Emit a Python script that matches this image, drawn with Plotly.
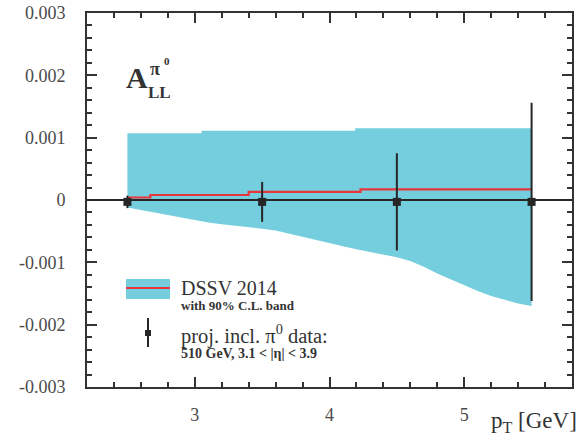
import plotly.graph_objects as go

# ---------------- data ----------------
# DSSV 2014 central prediction (step function)
dssv_x = [2.5, 2.67, 3.40, 4.23, 5.5]
dssv_y = [0.00004, 0.00008, 0.00013, 0.00017, 0.00017]

# 90% C.L. band: upper edge (steps) and lower edge
band_up_edges = [2.5, 3.05, 4.19, 5.5]
band_up_vals = [0.00107, 0.00111, 0.00115]
band_lo_x = [2.5, 2.6, 2.7, 2.8, 2.9, 3.0, 3.1, 3.2, 3.3, 3.4, 3.5, 3.6, 3.7, 3.8,
             3.9, 4.0, 4.1, 4.2, 4.3, 4.4, 4.5, 4.6, 4.7, 4.8, 4.9, 5.0, 5.1, 5.2,
             5.3, 5.4, 5.5]
band_lo_y = [-0.00012, -0.00016, -0.00021, -0.00025, -0.00029, -0.00032, -0.00036,
             -0.00039, -0.00042, -0.00044, -0.00046, -0.00049, -0.00054, -0.00059,
             -0.00064, -0.00069, -0.00074, -0.00079, -0.00084, -0.00088, -0.00092,
             -0.00098, -0.00107, -0.00118, -0.00128, -0.00137, -0.00146, -0.00154,
             -0.00160, -0.00166, -0.00170]

# projected pi0 data
pt = [2.5, 3.5, 4.5, 5.5]
all_val = [-0.00003, -0.00003, -0.00003, -0.00003]
all_err = [0.00010, 0.00032, 0.00078, 0.00159]

x_tickvals = [3, 4, 5]
x_ticktext = ["3", "4", "5"]
y_tickvals = [-0.003, -0.002, -0.001, 0, 0.001, 0.002, 0.003]
y_ticktext = ["-0.003", "-0.002", "-0.001", "0", "0.001", "0.002", "0.003"]

# ---------------- layout geometry ----------------
W, H = 587, 437
L, R, T, B = 87, 15, 13, 50
PW, PH = W - L - R, H - T - B
FONT = "Liberation Serif"
CYAN = "#74CEDE"
RED = "#E8353B"
DARK = "#262626"


def px(x):
    return (x - L) / PW


def py(y):
    return (H - B - y) / PH


# band polygon built from the data arrays
poly_x, poly_y = [], []
for i, v in enumerate(band_up_vals):
    poly_x += [band_up_edges[i], band_up_edges[i + 1]]
    poly_y += [v, v]
poly_x += band_lo_x[::-1]
poly_y += band_lo_y[::-1]

fig = go.Figure()
fig.add_trace(go.Scatter(x=poly_x, y=poly_y, fill="toself", fillcolor=CYAN,
                         mode="lines", line=dict(width=0, color=CYAN),
                         hoverinfo="skip", showlegend=False))
fig.add_trace(go.Scatter(x=dssv_x, y=dssv_y, mode="lines",
                         line=dict(color=RED, width=2.2, shape="hv"),
                         showlegend=False))
# zero line above band
fig.add_shape(type="line", xref="paper", yref="y", x0=0, x1=1, y0=0, y1=0,
              line=dict(color=DARK, width=2), layer="above")
fig.add_trace(go.Scatter(x=pt, y=all_val, mode="markers",
                         marker=dict(symbol="square", size=8, color=DARK),
                         error_y=dict(type="data", array=all_err, visible=True,
                                      color=DARK, thickness=2, width=0),
                         showlegend=False))

axis_common = dict(showline=True, linecolor="#333333", linewidth=2, mirror="ticks",
                   ticks="inside", tickcolor="#333333", tickwidth=2, ticklen=10,
                   showgrid=False, zeroline=False, automargin=False,
                   tickfont=dict(family=FONT, size=18, color="#4a4a4a"))

fig.update_xaxes(range=[2.2, 5.8], tickmode="array", tickvals=x_tickvals,
                 ticktext=x_ticktext, ticklabelstandoff=10,
                 minor=dict(dtick=0.2, tick0=2.2, ticklen=5, tickwidth=2,
                            tickcolor="#333333", ticks="inside", showgrid=False),
                 **axis_common)
fig.update_yaxes(range=[-0.003, 0.003], tickmode="array", tickvals=y_tickvals,
                 ticktext=y_ticktext, ticklabelstandoff=16,
                 minor=dict(dtick=0.0002, tick0=0, ticklen=5, tickwidth=2,
                            tickcolor="#333333", ticks="inside", showgrid=False),
                 **axis_common)

shapes = []
# legend: band box with red line
shapes.append(dict(type="rect", xref="paper", yref="paper",
                   x0=px(126), x1=px(170), y0=py(299), y1=py(279),
                   fillcolor=CYAN, line=dict(width=0)))
shapes.append(dict(type="line", xref="paper", yref="paper",
                   x0=px(126), x1=px(170), y0=py(288), y1=py(288),
                   line=dict(color=RED, width=2.2)))
# legend: data point symbol
shapes.append(dict(type="line", xref="paper", yref="paper",
                   x0=px(148), x1=px(148), y0=py(318), y1=py(347),
                   line=dict(color=DARK, width=2)))
shapes.append(dict(type="rect", xref="paper", yref="paper",
                   x0=px(145), x1=px(151), y0=py(336), y1=py(330),
                   fillcolor=DARK, line=dict(width=0)))
for s in shapes:
    fig.add_shape(**s)

ann = []
ann.append(dict(text="<b>A</b>", x=px(124), y=py(77), xanchor="left", yanchor="middle",
                font=dict(family=FONT, size=30, color="#333333")))
ann.append(dict(text="<b>π</b>", x=px(148), y=py(69), xanchor="left", yanchor="middle",
                font=dict(family=FONT, size=18, color="#333333")))
ann.append(dict(text="<b>0</b>", x=px(162), y=py(61), xanchor="left", yanchor="middle",
                font=dict(family=FONT, size=11, color="#333333")))
ann.append(dict(text="<b>LL</b>", x=px(146), y=py(93), xanchor="left", yanchor="middle",
                font=dict(family=FONT, size=17, color="#333333")))
ann.append(dict(text="DSSV 2014", x=px(179), y=py(288), xanchor="left", yanchor="middle",
                font=dict(family=FONT, size=20, color="#333333")))
ann.append(dict(text="<b>with 90% C.L. band</b>", x=px(179), y=py(305), xanchor="left",
                yanchor="middle", font=dict(family=FONT, size=13, color="#333333")))
ann.append(dict(text="proj. incl. π<sup>0</sup> data:", x=px(179), y=py(334),
                xanchor="left", yanchor="middle",
                font=dict(family=FONT, size=20.5, color="#333333")))
ann.append(dict(text="<b>510 GeV, 3.1 < |η| < 3.9</b>", x=px(179), y=py(353),
                xanchor="left", yanchor="middle",
                font=dict(family=FONT, size=14, color="#333333")))
ann.append(dict(text="p<sub>T</sub> [GeV]", x=px(579), y=py(422), xanchor="right",
                yanchor="middle", font=dict(family=FONT, size=23, color="#333333")))
for a in ann:
    fig.add_annotation(xref="paper", yref="paper", showarrow=False, **a)

fig.update_layout(width=W, height=H, margin=dict(l=L, r=R, t=T, b=B, autoexpand=False),
                  font=dict(family=FONT),
                  plot_bgcolor="white", paper_bgcolor="white", showlegend=False)

fig.write_html("out.html", config={"displayModeBar": False},
               post_script="document.body.style.margin='0';document.body.style.overflow='hidden';")
